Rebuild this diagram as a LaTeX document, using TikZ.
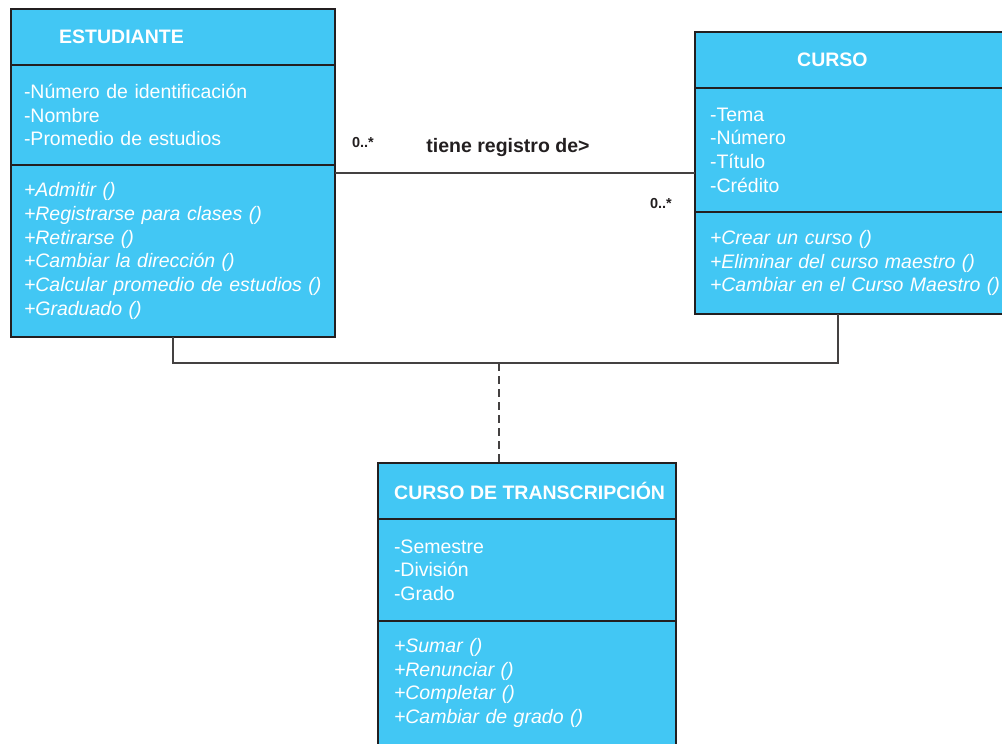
\documentclass[tikz,border=0pt]{standalone}
\usepackage{fontspec}
\setmainfont{Liberation Sans}
\usetikzlibrary{positioning}
\definecolor{umlblue}{HTML}{42C7F4}
\definecolor{umlline}{HTML}{231F20}

\begin{document}
\begin{tikzpicture}[
    x=1pt, y=-1pt,
    node distance=0pt,
    box/.style={draw=umlline, line width=1.8pt, fill=umlblue, outer sep=0pt, inner ysep=0pt, text=white, align=left, font=\fontsize{19.5}{23.7}\selectfont},
    head/.style={box, minimum height=56pt},
    meth/.style={box, font=\fontsize{19.5}{23.7}\selectfont\itshape},
    estw/.style={text width=298pt, inner xsep=13pt},
    crw/.style={text width=300pt, inner xsep=15pt},
    trw/.style={text width=266pt, inner xsep=16pt},
    title/.style={inner sep=0pt, text=white, font=\fontsize{19.5}{23.7}\selectfont\bfseries},
    mult/.style={inner sep=0pt, text=umlline, font=\fontsize{14.5}{17}\selectfont\bfseries},
    link/.style={draw=umlline!85, line width=1.3pt}
]
\useasboundingbox (0,0) rectangle (1002,744);
\clip (0,0) rectangle (1002,744);
% Estudiante
\node[head, estw, anchor=north west] (estH) at (11,9) {};
\node[title, right=48pt of estH.west] (estT) {ESTUDIANTE};
\node[box, estw, minimum height=100pt, below=of estH] (estA) {-Número de identificación\\-Nombre\\-Promedio de estudios};
\node[meth, estw, minimum height=172pt, below=of estA] (estM) {+Admitir ()\\+Registrarse para clases ()\\+Retirarse ()\\+Cambiar la dirección ()\\+Calcular promedio de estudios ()\\+Graduado ()};
% Curso
\node[head, crw, anchor=north west] (crH) at (695,32) {};
\node[title, right=102pt of crH.west] (crT) {CURSO};
\node[box, crw, minimum height=124pt, below=of crH] (crA) {-Tema\\-Número\\-Título\\-Crédito};
\node[meth, crw, minimum height=102pt, below=of crA] (crM) {+Crear un curso ()\\+Eliminar del curso maestro ()\\+Cambiar en el Curso Maestro ()};
% Curso de transcripcion
\node[head, trw, anchor=north west] (trH) at (378,463) {};
\node[title, right=16pt of trH.west] (trT) {CURSO DE TRANSCRIPCIÓN};
\node[box, trw, minimum height=102pt, below=of trH] (trA) {-Semestre\\-División\\-Grado};
\node[meth, trw, minimum height=124pt, below=of trA] (trM) {+Sumar ()\\+Renunciar ()\\+Completar ()\\+Cambiar de grado ()};
% association
\coordinate (assoc) at (0,173);
\draw[link] (assoc -| estM.east) -- (assoc -| crA.west);
\node[mult] (m1) at (363,143) {0..*};
\node[title, text=umlline] (rel) at (508,147) {tiene registro de>};
\node[mult] (m2) at (661,204) {0..*};
% association class
\coordinate (join) at (499,363);
\draw[link] (estM.south) |- (join) -| ([xshift=-22pt]crM.south);
\draw[link, dash pattern=on 8pt off 5pt] (join) -- (join |- trH.north);
\end{tikzpicture}
\end{document}
